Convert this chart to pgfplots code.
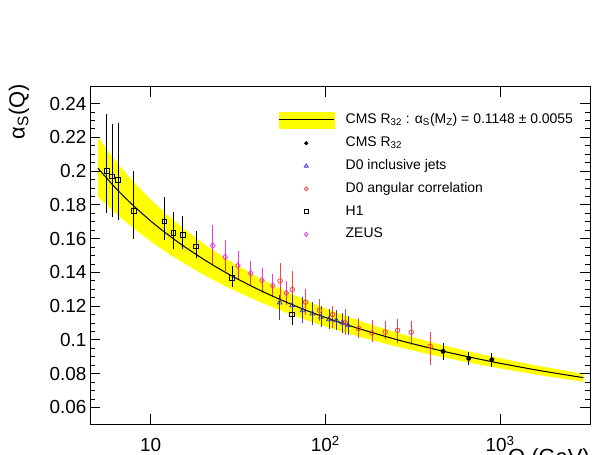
\documentclass[border=0pt]{standalone}
\usepackage{fontspec}
\setmainfont{Liberation Sans}
\usepackage{pgfplots}
\usepackage{pgfplotstable}
\pgfplotsset{compat=1.18}
\definecolor{zmag}{RGB}{225,60,225}
\definecolor{dred}{RGB}{240,70,70}
\definecolor{dblue}{RGB}{60,60,220}
\definecolor{bandy}{RGB}{255,255,0}

\pgfplotstableread{
x y ep em
5.62 0.2001 0.0330 0.0237
6.01 0.1969 0.0298 0.0233
6.50 0.1950 0.0326 0.0228
8.0 0.1762 0.0227 0.0152
12.0 0.1702 0.0133 0.0102
13.5 0.1633 0.0115 0.0083
15.3 0.1621 0.0103 0.0071
18.2 0.1554 0.0082 0.0057
29.2 0.1369 0.0057 0.0046
64.6 0.1151 0.0058 0.0055
}\hone
\pgfplotstableread{
x y ep em
22.7 0.1559 0.0114 0.0104
26.7 0.1491 0.0089 0.0075
31.6 0.1440 0.0075 0.0071
37.4 0.1394 0.0064 0.0065
43.4 0.1353 0.0063 0.0063
50.0 0.1321 0.0062 0.0059
59.8 0.1278 0.0061 0.0063
}\zeus
\pgfplotstableread{
x y ep em
55.1 0.1349 0.0097 0.0095
64.7 0.1298 0.0100 0.0113
77.1 0.1224 0.0066 0.0068
92.7 0.1175 0.0055 0.0055
110 0.1150 0.0040 0.0070
129.7 0.1102 0.0069 0.0061
155 0.1067 0.0055 0.0046
184.8 0.1041 0.0065 0.0044
220 0.1047 0.0055 0.0034
259 0.1057 0.0059 0.0066
310 0.1045 0.0059 0.0064
398 0.0962 0.0075 0.0103
}\dzang
\pgfplotstableread{
x y ep em
54.8 0.1221 0.0037 0.0091
64.6 0.1205 0.0049 0.0060
74.1 0.1175 0.0069 0.0063
84.4 0.1156 0.0062 0.0060
94.5 0.1136 0.0053 0.0050
105 0.1122 0.0053 0.0049
115.6 0.1116 0.0049 0.0049
125 0.1102 0.0049 0.0050
134.8 0.1086 0.0049 0.0045
}\dzinc
\pgfplotstableread{
x y ep em
472 0.0932 0.0040 0.0039
662 0.0891 0.0028 0.0032
897 0.0883 0.0031 0.0034
}\cms
\pgfplotstableread{
x y
5 0.2017
6 0.1924
7 0.1852
8 0.1794
10 0.1705
12 0.1639
15 0.1565
20 0.1479
25 0.1418
30 0.1372
40 0.1306
50 0.1259
60 0.1223
70 0.1194
80 0.1170
91.19 0.1148
100 0.11331
120 0.11048
150 0.10722
200 0.10332
250 0.10048
300 0.09830
400 0.09506
500 0.09270
600 0.09087
700 0.08939
800 0.08814
1000 0.08614
1500 0.08276
2000 0.08055
2500 0.07892
3000 0.07764
}\fit
\pgfplotstableread{
x y
5 0.2199
6 0.2089
7 0.2004
8 0.1936
10 0.1832
12 0.1756
15 0.1670
20 0.1572
25 0.1504
30 0.1453
40 0.1378
50 0.1326
60 0.1286
70 0.1254
80 0.1228
91.19 0.1203
100 0.11866
120 0.11555
150 0.11196
200 0.10770
250 0.10461
300 0.10224
400 0.09872
500 0.09616
600 0.09419
700 0.09258
800 0.09124
1000 0.08909
1500 0.08546
2000 0.08309
2500 0.08135
3000 0.07998
3000 0.07522
2500 0.07640
2000 0.07793
1500 0.07998
1000 0.08311
800 0.08496
700 0.08611
600 0.08748
500 0.08917
400 0.09134
300 0.09431
250 0.09630
200 0.09889
150 0.10244
120 0.10540
100 0.10795
91.19 0.1093
80 0.1113
70 0.1135
60 0.1161
50 0.1193
40 0.1235
30 0.1294
25 0.1334
20 0.1388
15 0.1463
12 0.1527
10 0.1584
8 0.1661
7 0.1710
6 0.1771
5 0.1849
}\band

\pgfplotsset{
  bandleg/.style={legend image code/.code={
    \fill[bandy] (0bp,-8bp) rectangle (55bp,8bp);
    \draw[black, line width=1bp] (0bp,0bp) -- (55bp,0bp);
    \path[draw=none, fill=none] (67bp,0bp) circle (0.01bp);}},
  markleg/.style={legend image code/.code={
    \path[draw=none, fill=none] (0bp,-6bp) -- (67bp,-6bp) -- (67bp,6bp);
    \draw[##1] plot coordinates {(27.5bp,0bp)};}},
  errstyle/.style={error bars/.cd, y dir=both, y explicit,
    error bar style={line width=0.8bp, solid},
    error mark options={mark size=1.6bp, line width=0.8bp}},
}

\begin{document}
\begin{tikzpicture}
\useasboundingbox (0,0) rectangle (603bp,455bp);
\begin{axis}[
  at={(90bp,30.7bp)}, anchor=south west,
  width=500bp, height=337.6bp, scale only axis,
  xmode=log, log basis x=10,
  xmin=4.5, xmax=3270, ymin=0.05, ymax=0.25,
  xtick={10,100,1000},
  xticklabels={10, 10\textsuperscript{2}, 10\textsuperscript{3}},
  ytick={0.06,0.08,0.1,0.12,0.14,0.16,0.18,0.2,0.22,0.24},
  minor y tick num=3,
  scaled y ticks=false,
  tick align=inside,
  major tick length=10bp, minor tick length=5bp,
  every tick/.style={black, line width=0.8bp},
  axis line style={line width=1bp},
  tick label style={font=\fontsize{19}{22}\selectfont},
  yticklabel style={/pgf/number format/fixed, /pgf/number format/precision=2,
    /pgf/number format/assume math mode=true, anchor=east, inner sep=0pt, xshift=-3.3bp},
  xticklabel style={anchor=base, inner sep=0pt, yshift=-27.4bp},
  xlabel={Q (GeV)},
  xlabel style={font=\fontsize{22}{26}\selectfont, at={(rel axis cs:1,0)}, anchor=north east, inner sep=0pt, yshift=-24bp},
  ylabel={α\textsubscript{S}(Q)},
  ylabel style={font=\fontsize{22}{26}\selectfont, at={(rel axis cs:-0.142,1.008)}, anchor=east, inner sep=0pt},
  legend style={at={(rel axis cs:0.376,0.927)}, anchor=north west, draw=none, fill=none,
    font=\fontsize{14}{16}\selectfont, inner sep=0pt, row sep=7.8bp,
    nodes={inner sep=0pt, text height=11bp, text depth=4bp}},
  legend cell align=left,
]
\addlegendimage{bandleg}
\addlegendentry{CMS R\textsubscript{32} :  α\textsubscript{S}(M\textsubscript{Z}) = 0.1148 ± 0.0055}
\addlegendimage{markleg, only marks, mark=*, black, mark size=1.8bp}
\addlegendentry{CMS R\textsubscript{32}}
\addlegendimage{markleg, only marks, mark=triangle, dblue, mark size=2.2bp, mark options={line width=0.8bp}}
\addlegendentry{D0 inclusive jets}
\addlegendimage{markleg, only marks, mark=o, dred, mark size=1.9bp, mark options={line width=0.8bp}}
\addlegendentry{D0 angular correlation}
\addlegendimage{markleg, only marks, mark=square, black, mark size=1.8bp, mark options={line width=0.8bp}}
\addlegendentry{H1}
\addlegendimage{markleg, only marks, mark=diamond, zmag, mark size=2.2bp, mark options={line width=0.8bp}}
\addlegendentry{ZEUS}

\addplot[forget plot, only marks, mark=square, black, mark size=2.4bp,
  mark options={line width=0.8bp, fill=white}, errstyle]
  table[x=x, y=y, y error plus=ep, y error minus=em] {\hone};
\addplot[forget plot, only marks, mark=diamond, zmag, mark size=3bp,
  mark options={line width=0.8bp, fill=white}, errstyle]
  table[x=x, y=y, y error plus=ep, y error minus=em] {\zeus};
\addplot[forget plot, only marks, mark=o, dred, mark size=2.3bp,
  mark options={line width=0.8bp, fill=white}, errstyle]
  table[x=x, y=y, y error plus=ep, y error minus=em] {\dzang};
\addplot[forget plot, only marks, mark=triangle, dblue, mark size=2.8bp,
  mark options={line width=0.8bp, fill=white}, errstyle]
  table[x=x, y=y, y error plus=ep, y error minus=em] {\dzinc};
\addplot[forget plot, only marks, mark=*, black, mark size=2.2bp, errstyle]
  table[x=x, y=y, y error plus=ep, y error minus=em] {\cms};

\addplot[forget plot, fill=bandy, draw=none, blend mode=multiply] table[x=x, y=y] {\band} -- cycle;
\addplot[forget plot, black, line width=1bp, smooth] table[x=x, y=y] {\fit};
\end{axis}
\end{tikzpicture}
\end{document}
